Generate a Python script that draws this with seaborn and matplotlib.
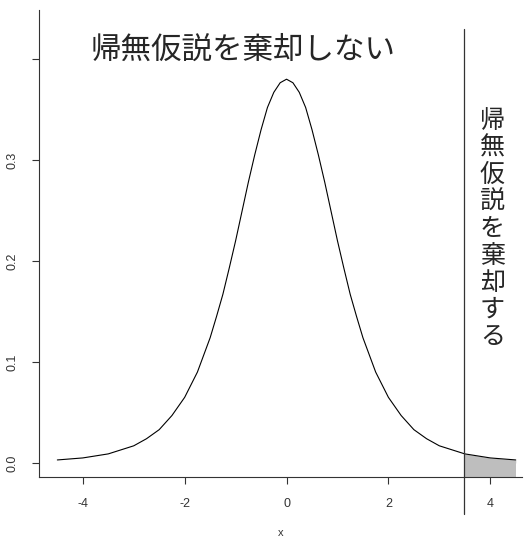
import numpy as np
import pandas as pd
import matplotlib
matplotlib.use("Agg")
import matplotlib.pyplot as plt
import seaborn as sns

# density curve values (denser near the peak)
x_vals = [-4.5, -4.25, -4.0, -3.75, -3.5, -3.25, -3.0, -2.75, -2.5, -2.25, -2.0,
          -1.75, -1.5, -1.375, -1.25, -1.125, -1.0, -0.875, -0.75, -0.625, -0.5,
          -0.375, -0.25, -0.125, 0.0, 0.125, 0.25, 0.375, 0.5, 0.625, 0.75,
          0.875, 1.0, 1.125, 1.25, 1.375, 1.5, 1.75, 2.0, 2.25, 2.5, 2.75,
          3.0, 3.25, 3.5, 3.75, 4.0, 4.25, 4.5]
y_vals = [0.003, 0.004, 0.005, 0.007, 0.009, 0.013, 0.017, 0.024, 0.033, 0.047, 0.065,
          0.090, 0.124, 0.145, 0.167, 0.193, 0.220, 0.249, 0.278, 0.305, 0.330,
          0.352, 0.367, 0.3765, 0.380, 0.3765, 0.367, 0.352, 0.330, 0.305, 0.278,
          0.249, 0.220, 0.193, 0.167, 0.145, 0.124, 0.090, 0.065, 0.047, 0.033, 0.024,
          0.017, 0.013, 0.009, 0.007, 0.005, 0.004, 0.003]
critical_value = 3.48

x_ticks = [-4, -2, 0, 2, 4]
y_ticks = [0.0, 0.1, 0.2, 0.3, 0.4]
y_tick_labels = ["0.0", "0.1", "0.2", "0.3", ""]

accept_text = "帰無仮説を棄却しない"
reject_text = "帰無仮説を棄却する"

df = pd.DataFrame({"x": x_vals, "y": y_vals})

sns.set_style("ticks")
plt.rcParams["font.family"] = ["Liberation Sans", "Noto Sans CJK JP"]
cjk = ["Noto Sans CJK JP", "DejaVu Sans"]

fig = plt.figure(figsize=(5.25, 5.39), dpi=100)
ax = fig.add_axes([0.0743, 0.115, 0.9197, 0.8664])

# shaded rejection region
tail = df[df["x"] >= critical_value]
tail_x = np.concatenate([[critical_value], tail["x"].values])
tail_y = np.concatenate([[np.interp(critical_value, df["x"], df["y"])], tail["y"].values])
ax.fill_between(tail_x, 0, tail_y, color="#bebebe", lw=0, zorder=1)
ax.fill_between(tail_x, -0.0139, 0, color="#bebebe", lw=0, zorder=1)

sns.lineplot(data=df, x="x", y="y", color="black", lw=0.8, ax=ax, zorder=2)

ax.axvline(critical_value, ymin=-0.08, ymax=0.9585, color="#333333", lw=0.9, clip_on=False)

ax.set_xlim(-4.86, 4.62)
ax.set_ylim(-0.0139, 0.4485)
ax.set_xticks(x_ticks)
ax.set_xticklabels([str(t) for t in x_ticks])
ax.set_yticks(y_ticks)
ax.set_yticklabels(y_tick_labels, rotation=90, va="center")
ax.tick_params(axis="both", length=5, width=0.8, color="#333333", labelcolor="#333333",
               labelsize=9)
ax.tick_params(axis="x", pad=10)
ax.tick_params(axis="y", pad=10)
for side in ["left", "bottom"]:
    ax.spines[side].set_color("#333333")
    ax.spines[side].set_linewidth(0.8)
sns.despine(ax=ax)

ax.set_xlabel("x", fontsize=8, color="#333333", labelpad=13)
ax.set_ylabel("")

ax.text(-0.85, 0.409, accept_text, fontsize=22, family=cjk, ha="center", va="center")
ax.text(4.04, 0.232, "\n".join(reject_text), fontsize=18, family=cjk,
        ha="center", va="center", linespacing=1.05)

fig.savefig("out.png", dpi=100)
